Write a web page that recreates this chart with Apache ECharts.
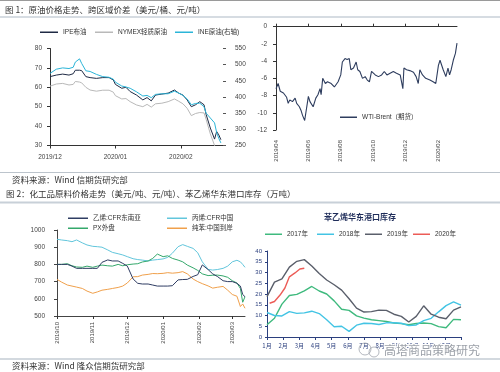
<!DOCTYPE html>
<html>
<head>
<meta charset="utf-8">
<script src="https://cdn.jsdelivr.net/npm/echarts@6/dist/echarts.min.js"></script>
<style>
  html, body { margin: 0; padding: 0; background: #fff; }
  #main { width: 500px; height: 372px; }
</style>
</head>
<body>
<div id="main"></div>
<script>
// ---------- Chart 1: crude prices ----------
const c1Dates = ['2019-12-01','2019-12-04','2019-12-07','2019-12-10','2019-12-12','2019-12-13','2019-12-15','2019-12-16','2019-12-18','2019-12-20','2019-12-23','2019-12-26','2019-12-29','2019-12-31','2020-01-01','2020-01-04','2020-01-06','2020-01-08','2020-01-11','2020-01-14','2020-01-16','2020-01-18','2020-01-20','2020-01-23','2020-01-26','2020-01-29','2020-01-31','2020-02-02','2020-02-04','2020-02-06','2020-02-08','2020-02-10','2020-02-12','2020-02-13','2020-02-15','2020-02-17','2020-02-18','2020-02-19','2020-02-20'];
const ipe   = [65.5,66.3,66.8,66.3,67,68.8,68.8,68.6,65.5,65,64.6,65,65,63.8,61.5,59.5,60,57.8,56,53.5,54.7,53,56,56.5,57,58.6,57,56,53.5,50,51,52.6,51,46,39,33.3,37.2,35.5,33];
const nymex = [60.6,61.7,62,61.2,61.5,63,62.7,62.3,60,58.6,58,58.5,58.5,57.5,55.7,54,54.2,52.6,50.9,50,51.2,49.8,51.5,51.8,52.6,54,52.8,51.5,49.2,45.4,46.5,47,46.8,43.5,36,30,28,28,27];
const ine   = [473,486,490,488,492,508,518,504,481,479,470,463,461,455,446,434,431,427,416,403,405,398,408,410,410,418,412,405,394,376,380,381,370,350,335,320,290,272,258];
const c1TickDates  = ['2019-12-01','2020-01-01','2020-02-01'];
const c1TickLabels = ['2019/12','2020/01','2020/02'];

// ---------- Chart 2: WTI-Brent spread ----------
const c2Dates = ['2019-04-01','2019-04-05','2019-04-09','2019-04-15','2019-04-21','2019-04-24','2019-04-27','2019-05-02','2019-05-07','2019-05-10','2019-05-15','2019-05-18','2019-05-21','2019-05-25','2019-05-28','2019-06-01','2019-06-04','2019-06-07','2019-06-10','2019-06-15','2019-06-19','2019-06-23','2019-06-25','2019-06-28','2019-07-03','2019-07-07','2019-07-14','2019-07-20','2019-07-27','2019-08-01','2019-08-04','2019-08-09','2019-08-13','2019-08-17','2019-08-20','2019-08-25','2019-08-30','2019-09-02','2019-09-06','2019-09-11','2019-09-16','2019-09-20','2019-09-24','2019-09-28','2019-10-05','2019-10-11','2019-10-17','2019-10-22','2019-10-27','2019-11-02','2019-11-08','2019-11-14','2019-11-21','2019-11-26','2019-11-28','2019-12-03','2019-12-09','2019-12-16','2019-12-21','2019-12-25','2019-12-28','2020-01-02','2020-01-08','2020-01-16','2020-01-22','2020-01-27','2020-02-01','2020-02-04','2020-02-07','2020-02-10','2020-02-15','2020-02-19','2020-02-22','2020-02-25','2020-02-29','2020-03-04','2020-03-07'];
const wtiBrent = [-7.2,-6.6,-7.5,-7.7,-8.2,-8.9,-8.5,-8.7,-8.3,-8.9,-9.3,-9.7,-10.3,-10.9,-10.9,-8.1,-8.7,-8.9,-9.3,-8.3,-7.9,-7.2,-7.9,-6.0,-6.6,-6.4,-6.6,-7.0,-6.4,-5.6,-4.1,-3.7,-3.8,-3.7,-5.0,-4.8,-4.1,-5.0,-5.2,-6.0,-5.8,-6.2,-6.4,-5.2,-5.6,-5.8,-5.6,-5.2,-5.6,-5.4,-5.2,-5.4,-5.6,-7.2,-4.8,-5.0,-5.1,-5.3,-5.8,-6.6,-5.0,-5.6,-6.0,-6.2,-6.4,-6.6,-4.5,-3.9,-4.1,-5.0,-5.8,-4.8,-5.6,-5.0,-3.9,-3.1,-1.9];
const c2TickDates  = ['2019-04-01','2019-06-01','2019-08-01','2019-10-01','2019-12-01','2020-02-01'];
const c2TickLabels = ['2019/04','2019/06','2019/08','2019/10','2019/12','2020/02'];

// ---------- Chart 3: chemical feedstock prices ----------
const c3Dates = ['2019-10-01','2019-10-05','2019-10-10','2019-10-14','2019-10-18','2019-10-23','2019-10-27','2019-11-01','2019-11-05','2019-11-09','2019-11-14','2019-11-18','2019-11-23','2019-11-27','2019-12-01','2019-12-06','2019-12-10','2019-12-14','2019-12-19','2019-12-23','2019-12-27','2020-01-01','2020-01-05','2020-01-09','2020-01-14','2020-01-18','2020-01-22','2020-01-27','2020-01-31','2020-02-04','2020-02-09','2020-02-13','2020-02-17','2020-02-22','2020-02-26','2020-03-01','2020-03-05','2020-03-08','2020-03-10','2020-03-12'];
const ethylene  = [800,800,800,790,777,777,777,777,777,812,826,820,820,806,790,715,690,686,686,680,674,674,674,676,710,712,713,730,740,797,770,745,730,705,700,700,690,674,625,612];
const propylene = [946,942,938,932,942,925,913,905,903,900,884,870,862,855,845,833,828,825,820,825,828,832,841,865,903,915,905,893,868,815,771,767,770,777,790,815,824,815,800,783];
const pxPrice   = [800,800,804,792,785,783,790,783,790,796,792,790,800,792,798,802,804,814,820,835,860,845,850,835,825,815,796,780,765,745,735,737,738,733,725,705,692,660,580,612];
const benzene   = [713,697,680,674,668,660,645,632,640,650,655,660,666,674,692,728,729,738,742,747,746,748,752,749,752,758,745,715,700,688,675,662,667,672,650,625,615,555,570,545];
const c3TickDates  = ['2019-10-01','2019-11-01','2019-12-01','2020-01-01','2020-02-01','2020-03-01'];
const c3TickLabels = ['2019/10','2019/11','2019/12','2020/01','2020/02','2020/03'];

// ---------- Chart 4: styrene port inventory (weeks of year) ----------
const weeks = [0,2,4,6,8,10,12,14,16,18,20,22,24,26,28,30,32,34,36,38,40,42,44,46,48,50,52];
const inv2017 = [5.7,8.7,15.3,19.3,19.8,21.5,23.5,21.4,20.0,16.8,12.9,12.4,9.8,8.8,8.0,7.6,7.2,6.5,6.2,5.7,6.3,6.5,6.2,4.8,4.3,8.2,8.0];
const inv2018 = [11.4,10.0,9.8,11.8,11.0,11.2,12.0,10.9,8.0,4.8,5.0,2.6,5.5,6.4,6.3,5.8,6.6,6.6,6.4,5.3,5.6,7.6,8.7,11.7,14.6,16.3,14.8];
const inv2019 = [18.8,25.5,27.0,32.5,35.2,36.0,33.0,29.5,26.5,24.3,21.8,17.8,13.4,11.6,11.8,12.5,12.4,10.6,9.6,7.0,9.6,14.5,10.6,9.2,8.5,12.5,14.0];
const weeks2020 = [0.7,2,3.5,4.8,6,7.5,8.8,10];
const inv2020 = [15.7,16.5,19.5,22.8,28,29.8,31.6,32];
const c4TickWeeks  = [0,4.33,8.67,13,17.33,21.67,26,30.33,34.67,39,43.33,47.67,52];
const c4TickLabels = ['1月','2月','3月','4月','5月','6月','7月','8月','9月','10月','11月','12月',''];

// ---------- helpers ----------
const T = s => { const p = s.split('-').map(Number); return new Date(p[0], p[1] - 1, p[2]).getTime(); };
const zip = (xs, ys) => xs.map((x, i) => [x, ys[i]]);
const dateLabeler = (dates, labels) => { const ts = dates.map(T); return v => { const i = ts.findIndex(t => Math.abs(t - v) < 43200000); return i >= 0 ? labels[i] : ''; }; };
const weekLabeler = v => { const i = c4TickWeeks.findIndex(w => Math.abs(w - v) < 0.01); return i >= 0 ? c4TickLabels[i] : ''; };
const plain = v => String(v);

const FONT = 'Liberation Sans, Arial, Noto Sans CJK SC, sans-serif';
const CJK = 'Noto Sans CJK SC, sans-serif';
const AX = '#333';
const LBL = '#444';
const NAVY4 = '#2b3f7e';

function legendItem(name, left, top, w) {
  return { data: [name], left: left, top: top, padding: 0, icon: 'rect', itemWidth: w || 18, itemHeight: 1.5,
    textStyle: { fontSize: 6.5, color: '#333', fontFamily: FONT }, selectedMode: false };
}
function line(name, xi, yi, data, color, width) {
  return { name: name, type: 'line', xAxisIndex: xi, yAxisIndex: yi, data: data, symbol: 'none',
    showSymbol: false, lineStyle: { color: color, width: width || 1 }, itemStyle: { color: color },
    emphasis: { disabled: true }, clip: true };
}
function dateAxis(grid, dates, labels, min, max, extra) {
  const ts = dates.map(T);
  const ax = { type: 'value', gridIndex: grid, min: T(min), max: T(max), scale: true,
    axisLine: { show: true, onZero: false, lineStyle: { color: AX, width: 1 } },
    axisTick: { show: true, customValues: ts, length: 3, lineStyle: { color: AX } },
    axisLabel: { customValues: ts, formatter: dateLabeler(dates, labels), fontSize: 6.5, color: LBL, margin: 8 },
    splitLine: { show: false } };
  return Object.assign(ax, extra || {});
}

const chart = echarts.init(document.getElementById('main'), null, { renderer: 'canvas' });

const c2min = '2019-04-01', c2max = '2020-03-07';
const option = {
  animation: false,
  backgroundColor: '#fff',
  textStyle: { fontFamily: FONT },
  grid: [
    { left: 50, top: 48.5, width: 173, height: 97, outerBoundsMode: 'none', containLabel: false },
    { left: 276, top: 26.7, width: 181, height: 103.3, outerBoundsMode: 'none', containLabel: false },
    { left: 57, top: 230, width: 188, height: 86, outerBoundsMode: 'none', containLabel: false },
    { left: 267, top: 251, width: 194, height: 86, outerBoundsMode: 'none', containLabel: false }
  ],
  xAxis: [
    dateAxis(0, c1TickDates, c1TickLabels, '2019-12-01', '2020-02-21'),
    dateAxis(1, c2TickDates, c2TickLabels, c2min, c2max, {
      position: 'bottom',
      axisLine: { show: false, onZero: false }, axisTick: { show: false },
      axisLabel: { customValues: c2TickDates.map(T), formatter: dateLabeler(c2TickDates, c2TickLabels), rotate: 90, fontSize: 6, color: LBL, margin: 10 } }),
    dateAxis(1, c2TickDates, c2TickLabels, c2min, c2max, {
      position: 'top', axisLabel: { show: false } }),
    dateAxis(2, c3TickDates, c3TickLabels, '2019-10-01', '2020-03-12', {
      axisLine: { show: true, onZero: false, lineStyle: { color: '#444', width: 1 } },
      axisLabel: { customValues: c3TickDates.map(T), formatter: dateLabeler(c3TickDates, c3TickLabels), rotate: 90, fontSize: 6, color: LBL, margin: 6 } }),
    { type: 'value', gridIndex: 3, min: 0, max: 52,
      axisLine: { show: true, onZero: false, lineStyle: { color: NAVY4, width: 1 } },
      axisTick: { show: true, customValues: c4TickWeeks, length: 3, lineStyle: { color: NAVY4 } },
      axisLabel: { customValues: c4TickWeeks.slice(0, 12), formatter: weekLabeler, fontSize: 6, color: NAVY4, margin: 6, fontFamily: CJK },
      splitLine: { show: false } }
  ],
  yAxis: [
    { type: 'value', gridIndex: 0, min: 30, max: 80, interval: 10,
      axisLine: { show: true, lineStyle: { color: AX } }, axisTick: { show: true, length: 3, lineStyle: { color: AX } },
      axisLabel: { formatter: plain, fontSize: 6.5, color: LBL, margin: 8 }, splitLine: { show: false } },
    { type: 'value', gridIndex: 0, position: 'right', min: 250, max: 550, interval: 50,
      axisLine: { show: false }, axisTick: { show: true, length: 3, lineStyle: { color: '#555' } },
      axisLabel: { formatter: plain, fontSize: 6.5, color: LBL, margin: 12 }, splitLine: { show: false } },
    { type: 'value', gridIndex: 1, min: -12, max: 0, interval: 2,
      axisLine: { show: true, onZero: false, lineStyle: { color: AX } }, axisTick: { show: true, length: 3, lineStyle: { color: AX } },
      axisLabel: { formatter: plain, fontSize: 6.5, color: LBL, margin: 9 }, splitLine: { show: false } },
    { type: 'value', gridIndex: 2, min: 500, max: 1000, interval: 100,
      axisLine: { show: true, lineStyle: { color: '#444' } }, axisTick: { show: true, length: 3, lineStyle: { color: '#444' } },
      axisLabel: { formatter: plain, fontSize: 6.5, color: LBL, margin: 12 }, splitLine: { show: false } },
    { type: 'value', gridIndex: 3, min: 0, max: 40, interval: 5,
      axisLine: { show: true, lineStyle: { color: NAVY4 } }, axisTick: { show: true, length: 2, lineStyle: { color: NAVY4 } },
      axisLabel: { formatter: plain, fontSize: 6, color: NAVY4, margin: 5 }, splitLine: { show: false } }
  ],
  legend: [
    legendItem('IPE布油', 40, 29),
    legendItem('NYMEX轻质原油', 95, 29),
    legendItem('INE原油(右轴)', 175, 29),
    legendItem('WTI-Brent（期货）', 340, 114, 17),
    legendItem('乙烯:CFR东南亚', 68, 215, 20),
    legendItem('丙烯:CFR中国', 167, 215, 20),
    legendItem('PX外盘', 68, 225, 20),
    legendItem('纯苯:中国到岸', 167, 225, 20),
    legendItem('2017年', 265, 231, 17),
    legendItem('2018年', 317, 231, 17),
    legendItem('2019年', 365, 231, 17),
    legendItem('2020年', 413, 231, 17)
  ],
  series: [
    line('NYMEX轻质原油', 0, 0, zip(c1Dates.map(T), nymex), '#b9b9b9', 1),
    line('IPE布油', 0, 0, zip(c1Dates.map(T), ipe), '#1f2a44', 1),
    line('INE原油(右轴)', 0, 1, zip(c1Dates.map(T), ine), '#2bb5d8', 1),
    line('WTI-Brent（期货）', 1, 2, zip(c2Dates.map(T), wtiBrent), '#2e3d5e', 1.1),
    line('丙烯:CFR中国', 3, 3, zip(c3Dates.map(T), propylene), '#62c6dc', 1),
    line('PX外盘', 3, 3, zip(c3Dates.map(T), pxPrice), '#34a86b', 1),
    line('纯苯:中国到岸', 3, 3, zip(c3Dates.map(T), benzene), '#f0a04b', 1),
    line('乙烯:CFR东南亚', 3, 3, zip(c3Dates.map(T), ethylene), '#2f3d63', 1),
    line('2017年', 4, 4, zip(weeks, inv2017), '#3fba7e', 1.4),
    line('2018年', 4, 4, zip(weeks, inv2018), '#43c4e4', 1.4),
    line('2019年', 4, 4, zip(weeks, inv2019), '#5a5f6b', 1.4),
    line('2020年', 4, 4, zip(weeks2020, inv2020), '#ec5c57', 1.4)
  ],
  graphic: [
    { type: 'line', shape: { x1: 0, y1: 0.5, x2: 500, y2: 0.5 }, style: { stroke: '#9a9a9a', lineWidth: 1 }, silent: true },
    { type: 'text', x: 5, y: 10, style: { text: '图 1：原油价格走势、跨区域价差（美元/桶、元/吨）', fontSize: 8.5, fontFamily: CJK, fill: '#333', verticalAlign: 'middle' }, silent: true },
    { type: 'line', shape: { x1: 0, y1: 17, x2: 500, y2: 17 }, style: { stroke: '#c8d0d8', lineWidth: 1.5 }, silent: true },
    { type: 'line', shape: { x1: 0, y1: 172.5, x2: 500, y2: 172.5 }, style: { stroke: '#bcc4cc', lineWidth: 1 }, silent: true },
    { type: 'text', x: 12, y: 180, style: { text: '资料来源：Wind 信期货研究部', fontSize: 8.5, fontFamily: CJK, fill: '#333', verticalAlign: 'middle' }, silent: true },
    { type: 'text', x: 6, y: 194, style: { text: '图 2：化工品原料价格走势（美元/吨、元/吨）、苯乙烯华东港口库存（万吨）', fontSize: 8.5, fontFamily: CJK, fill: '#333', verticalAlign: 'middle' }, silent: true },
    { type: 'line', shape: { x1: 0, y1: 202.5, x2: 500, y2: 202.5 }, style: { stroke: '#c8d0d8', lineWidth: 2 }, silent: true },
    { type: 'text', x: 360, y: 217, style: { text: '苯乙烯华东港口库存', fontSize: 8, fontWeight: 'bold', fontFamily: CJK, fill: '#1f2d5a', align: 'center', verticalAlign: 'middle' }, silent: true },
    { type: 'line', shape: { x1: 0, y1: 359, x2: 500, y2: 359 }, style: { stroke: '#c5cdd5', lineWidth: 1.5 }, silent: true },
    { type: 'text', x: 12, y: 366, style: { text: '资料来源：Wind 隆众信期货研究部', fontSize: 8.5, fontFamily: CJK, fill: '#333', verticalAlign: 'middle' }, silent: true },
    { type: 'circle', shape: { cx: 365, cy: 349, r: 6 }, style: { fill: 'none', stroke: 'rgba(150,155,165,0.7)', lineWidth: 1 }, z: 100, silent: true },
    { type: 'circle', shape: { cx: 374, cy: 352, r: 5 }, style: { fill: 'none', stroke: 'rgba(150,155,165,0.7)', lineWidth: 1 }, z: 100, silent: true },
    { type: 'text', x: 384, y: 350, style: { text: '高塔商品策略研究', fontSize: 12, fontFamily: CJK, fill: 'rgba(130,136,146,0.8)', stroke: '#fff', lineWidth: 2, verticalAlign: 'middle' }, z: 100, silent: true }
  ]
};

chart.setOption(option);
</script>
</body>
</html>
